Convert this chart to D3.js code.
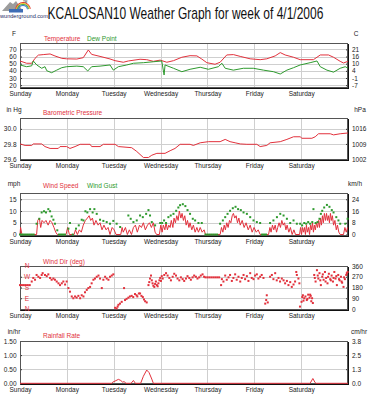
<!DOCTYPE html>
<meta charset="utf-8">
<style>
  body { margin: 0; background: #fff; }
  svg text { font-family: "Liberation Sans", Arial, sans-serif; font-size: 6.5px; fill: #222; }
  .grid { stroke: #cfcfcf; stroke-width: 1px; shape-rendering: crispEdges; }
  .box { fill: none; stroke: #555; stroke-width: 1px; shape-rendering: crispEdges; }
  .shadow { stroke: #111; stroke-width: 1px; shape-rendering: crispEdges; }
  .red { fill: #e2313c !important; }
  .green { fill: #2e9a2e !important; }
</style>
<body>
<svg width="372" height="400"></svg>
<script src="https://d3js.org/d3.v7.min.js"></script>
<script>
// ---- data (hours since Sunday 00:00, value) ---------------------------------
var days = ["Sunday", "Monday", "Tuesday", "Wednesday", "Thursday", "Friday", "Saturday"];
var dayHours = [0, 24, 48, 72, 96, 120, 144];

var tempF = [[0,53.8],[3.4,50.6],[6,50.6],[7.7,57.5],[9.4,62],[11.9,62.7],[15.4,63.6],[17.9,60.8],
  [21.4,57.5],[23.9,56.8],[29.1,56.5],[32.4,58.4],[35,69.2],[36.7,63],[41,60.2],[46.1,56.6],
  [48.7,54.2],[52.9,52],[55.5,53.8],[61.5,56.2],[64.9,55.6],[68.3,53.3],[71.8,55],[75.2,52],
  [78.6,54.2],[82.9,59],[87.1,61.2],[90.6,60.9],[93.1,56.5],[95.7,51.4],[99.9,49.2],[102.5,52],
  [105.9,62.2],[109.3,62.7],[112.8,60.2],[117.9,56.8],[123,55.6],[126.4,56.8],[130.7,60.9],
  [133.3,65.5],[135.8,62.2],[140.1,59],[143.5,55.6],[150.3,55.6],[153.8,62.2],[158,62.2],
  [160.6,59],[164,53.3],[165.7,51],[168,53.3]];

var dewF = [[0,48.2],[3.4,45.8],[6,47],[6.8,53.8],[8.6,48.2],[11.1,43.6],[12.8,45.8],[13.7,40.2],
  [16.2,37.4],[18.8,41],[21.4,44.4],[23.9,45.8],[29.1,46.6],[32.4,45.8],[34.7,39.8],[36.7,45.8],
  [41,46.6],[46.1,48.2],[47.8,41],[50.4,45.8],[54.7,48.2],[58.1,50.6],[63.2,51.4],[68.3,52.7],
  [72.6,53.8],[73.8,34.2],[74.3,48.2],[78.6,43.6],[82.9,38.8],[87.1,42.2],[92.3,45],[96.5,42.2],
  [101.6,45.8],[103.4,50.6],[105.1,43.6],[109.3,41],[114.4,43.6],[119.5,43.6],[124.7,41],
  [129.8,38.8],[133.3,35.6],[136.7,41],[140.1,44.4],[143.5,48.2],[148.6,51.4],[152.1,53.8],
  [153.8,45.8],[157.2,41],[160.6,38.2],[164,43.6],[166.6,45.8],[168,43.6]];

var pressIn = [[0,29.80],[2.6,29.78],[6,29.78],[6.8,29.80],[11.1,29.80],[12.8,29.765],[15.4,29.74],
  [19.6,29.74],[20.5,29.765],[23.9,29.765],[25.6,29.74],[28.2,29.765],[30.8,29.795],[35.9,29.795],
  [36.7,29.765],[41,29.765],[42.7,29.795],[48.7,29.795],[50.4,29.765],[57.2,29.75],[59.8,29.70],
  [63.2,29.62],[65.8,29.62],[67.5,29.65],[70.1,29.675],[74.3,29.675],[76.9,29.71],[79.4,29.74],
  [82,29.795],[87.1,29.795],[88.8,29.78],[92.3,29.815],[96.5,29.83],[102.5,29.83],[105.1,29.86],
  [107.6,29.83],[110.2,29.815],[112.8,29.80],[116.2,29.795],[121.3,29.795],[123,29.765],
  [126.4,29.78],[128.1,29.815],[133.3,29.83],[136.7,29.86],[140.1,29.895],[143.5,29.895],
  [144.4,29.875],[149.5,29.875],[151.2,29.895],[152.9,29.935],[158.9,29.935],[160.6,29.92],
  [164,29.935],[168,29.945]];

var windMph = [[0,0],[0.3,3],[1,0],[8.5,0],[9.1,6],[9.9,7],[10.6,3],[11.3,6],[12.3,5],[13.3,6],
  [14.4,4],[15.4,6],[16.4,5],[17.4,3],[18.3,1],[19.1,0],[23.6,0],[24.4,3],[25.3,0],[27.7,0],
  [28.4,2],[29.4,0],[30.4,2],[31.4,1],[32.4,4],[33.5,6],[34.5,7],[35.4,8],[36.2,6],[37.1,7],
  [37.9,4],[38.9,6],[40,4],[41,5],[42,2],[43,4],[44.1,2],[45.1,3],[46.1,0],[47.2,3],[48.2,2],
  [49.2,0],[51.6,0],[52.3,3],[52.9,1],[54,3],[55,0],[56,2],[57.1,0],[58.1,3],[59.1,4],[60.1,1],
  [61.2,4],[62.2,3],[63.2,5],[64.2,2],[65.3,4],[66.3,5],[67.3,3],[68.3,5],[69.2,1],[70,0],
  [71.4,0],[72.1,4],[72.8,1],[73.4,4],[74.2,2],[74.8,5],[75.5,2],[76.2,4],[76.9,3],[77.5,6],
  [78.3,3],[78.9,7],[79.6,5],[80.3,8],[81,6],[81.6,10],[82.4,7],[83,9],[83.7,6],[84.4,8],
  [85.1,4],[85.8,6],[86.5,3],[87.1,5],[88,2],[88.8,4],[89.7,1],[90.6,3],[91.4,1],[92.3,3],
  [93.3,1],[94.3,2],[95,0],[102.5,0],[103.2,3],[103.9,1],[104.6,4],[105.2,2],[105.9,5],[106.6,3],
  [107.3,6],[108,5],[108.7,8],[109.3,9],[110,7],[110.7,8],[111.4,5],[112.1,7],[112.8,4],[113.8,6],
  [114.8,3],[115.8,5],[116.9,2],[117.9,4],[118.9,1],[119.9,3],[121,1],[122,2],[123,0],[127.3,0],
  [128,3],[128.6,1],[129.3,4],[130,2],[130.7,4],[131.4,1],[132,3],[132.7,5],[133.4,3],[134.1,6],
  [134.8,4],[135.5,5],[136.2,2],[136.8,4],[137.7,1],[138.5,3],[139.4,0],[140.3,2],[141.1,0],
  [143.2,0],[143.7,3],[144.2,0],[144.7,3],[145.2,1],[145.7,3],[146.2,0],[146.7,4],[147.2,1],
  [147.8,3],[148.3,0],[148.8,4],[149.3,2],[149.8,5],[150.3,1],[150.8,4],[151.3,2],[151.8,5],
  [152.4,3],[152.9,6],[153.4,3],[153.9,7],[154.4,4],[154.9,8],[155.4,5],[155.9,9],[156.5,6],
  [157,9],[157.5,6],[158,8],[158.5,5],[159,9],[159.5,6],[160,8],[160.6,4],[161.3,6],[162,2],
  [162.6,4],[163.3,1],[164,0],[165.7,0],[166.4,3],[167.1,1],[167.8,3]];

var gustMph = [[0,0],[1,0],[2,0],[3,0],[4,0],[5,0],[6,0],[7,0],[8.5,4.6],[9.9,6.7],[11.1,9.4],
  [12.3,9.9],[13.3,9.4],[14.5,10.8],[15.4,9.9],[16.2,7.7],[17.1,6.3],[17.9,4.6],[19.1,1.8],
  [20,0],[21,0],[22,0],[23,0],[24.8,2.5],[25.6,4.9],[27,0],[28.7,2.5],[30.1,3.9],[31.6,6.3],
  [32.5,6],[33.5,9.9],[34.5,9.4],[35.9,10.8],[37.2,9.4],[38.1,10.8],[39.3,8.8],[41,6.3],
  [42.7,5.8],[44.4,5.3],[46.1,4.6],[47.8,5.8],[49.5,4.6],[51.3,3.2],[55.5,8.1],[56.7,6.7],
  [58.1,5.3],[59.8,6],[61.5,8.1],[62.9,7.4],[64.6,8.8],[65.8,10.4],[66.6,8.1],[67.5,5.3],
  [69.2,3.9],[71.8,4.9],[72.8,4.9],[73.8,6],[74.8,4.9],[76,7.4],[77.2,8.1],[78.6,8.8],[80,10.1],
  [81.1,11.5],[82,12.5],[83.4,12.9],[84.7,12.1],[85.8,10.4],[87.1,8.8],[88.5,6.7],[89.7,6],
  [91.4,4.9],[93.1,4.9],[95,0],[96,0],[97,0],[98,0],[99,0],[100,0],[101,0],[102.5,4.6],
  [103.9,6],[105.1,7.4],[106.3,8.8],[107.6,10.1],[109,11.2],[110.4,11.8],[111.7,10.8],[113.1,10.4],
  [114.5,9.4],[116.2,8.8],[117.9,7.4],[119.6,6],[121.3,5.3],[123,4.9],[124,0],[125,0],[126,0],
  [128.1,4.9],[129.8,6],[131.6,7.4],[133.3,8.8],[135,8.1],[136.7,6.7],[138.4,4.9],[140.1,6],
  [141.8,4.6],[143.5,4.6],[144.5,3.9],[145.6,4.9],[146.6,4.6],[147.6,5.3],[148.6,4.6],[149.7,5.3],
  [150.3,10.8],[151.4,4.9],[152.4,5.3],[153.4,6.7],[154.1,8.8],[154.8,10.1],[155.8,11.5],
  [157.2,12.6],[158.5,11.8],[159.7,10.4],[160.6,9.4],[162,7.4],[163.1,6],[164,4.6],[166.6,4.6],
  [167.8,6.7]];

var windDeg = [[0,200],[1,200],[2,200],[3,200],[4,200],[5,200],[6,230],[6.8,260],[7.7,245],
  [8.5,285],[9.4,270],[10.3,260],[11.1,285],[11.6,300],[12.8,285],[13.7,275],[14.5,290],
  [15.4,260],[16.2,245],[17.1,255],[17.9,245],[18.8,230],[19.7,215],[20.5,200],[21.4,215],
  [22.2,230],[23.1,205],[23.9,230],[24.8,175],[25.6,145],[26.5,105],[27.3,90],[28.2,105],
  [29,95],[29.9,110],[30.8,90],[31.6,115],[32.5,105],[33.3,140],[34.2,160],[35,175],[35.9,185],
  [36.7,215],[37.6,245],[38.4,255],[39.3,270],[40.2,280],[41,255],[41.9,175],[42.7,245],
  [43.6,270],[44.4,255],[45.3,245],[46.1,270],[47,280],[47.8,290],[48.7,10],[49.5,5],[50,20],
  [50.4,35],[51.2,45],[52.1,60],[53.3,175],[53.8,75],[54.6,85],[55.5,95],[56.3,105],[57.2,110],
  [58,100],[58.9,125],[59.7,115],[60.1,105],[60.9,130],[61.5,130],[62.2,110],[62.9,100],
  [63.5,80],[64.1,65],[64.9,55],[65.8,200],[66.2,225],[66.6,255],[67.1,280],[67.5,240],
  [67.9,215],[68.3,195],[68.8,185],[69.2,210],[69.6,230],[70.1,200],[70.5,190],[70.9,215],
  [71.4,240],[71.8,260],[72.2,235],[72.6,275],[73.1,255],[73.9,285],[74.8,300],[75.6,280],
  [76.5,260],[77.3,240],[78.2,270],[79,295],[79.9,280],[80.7,255],[81.6,240],[82.4,265],
  [83.3,250],[84.1,235],[85,255],[85.8,275],[86.7,260],[87.5,245],[88.4,265],[89.2,280],
  [90.1,270],[90.9,255],[91.8,265],[92.6,280],[93.5,290],[94.3,270],[95,265],[96,265],[97,265],
  [98,265],[99,265],[100,265],[101,265],[102,265],[103,200],[103.4,250],[104.2,230],[105.1,280],
  [105.9,245],[106.8,265],[107.6,285],[108.5,235],[109.3,260],[110.2,290],[111,245],[111.9,270],
  [112.8,230],[113.6,260],[114.5,285],[115.3,250],[116.2,275],[117,235],[117.9,300],[118.7,260],
  [119.6,250],[120.4,280],[121.3,290],[122.1,255],[123,270],[123.8,285],[124.7,260],[125.6,45],
  [126.1,75],[126.4,115],[126.9,55],[128.1,270],[129,285],[129.8,250],[130.7,300],[131.5,240],
  [132.4,260],[133.2,230],[134.1,255],[135,240],[135.8,215],[136.7,235],[137.5,200],[138.4,225],
  [139.2,185],[140.1,205],[140.9,230],[141.5,310],[141.8,285],[142.6,255],[143.1,215],[143.4,20],
  [144.2,60],[144.6,100],[144.9,115],[145.2,70],[145.6,90],[146.2,105],[146.9,75],[147.2,85],
  [147.6,120],[148.3,95],[148.6,120],[148.9,110],[149.2,65],[149.6,90],[150,50],[150.7,285],
  [151,260],[151.4,230],[152.1,325],[152.5,280],[152.8,255],[153.4,300],[153.8,240],[154.1,200],
  [154.8,270],[155.1,290],[155.5,245],[156.2,310],[156.5,230],[156.8,260],[157.5,215],[157.8,270],
  [158.2,295],[158.9,250],[159.2,240],[159.6,280],[160.3,230],[160.6,260],[161,310],[161.6,255],
  [162,275],[162.3,200],[163,285],[163.4,250],[163.7,240],[164.4,270],[164.7,230],[165,220],
  [165.7,185],[166,265],[166.4,250],[167.1,285],[167.4,300],[167.8,310]];

var rainIn = [[0,0],[47,0],[47.5,0.04],[48.7,0.08],[50.4,0.14],[51.6,0.1],[52.6,0.04],[53.3,0.06],
  [54.3,0],[56.9,0],[58.1,0.1],[59.1,0],[61.8,0],[63.2,0.25],[64.9,0.47],[66.1,0.38],[67.5,0.15],
  [68.3,0],[148.6,0],[150,0.17],[151.2,0.02],[151.7,0],[168,0]];

var tempTicks = [20, 30, 40, 50, 60, 70];
var pressTicks = [29.6, 29.8, 30.0];
var windTicks = [0, 5, 10, 15];
var dirTicks = [0, 90, 180, 270, 360];
var dirLetters = ["N", "E", "S", "W", "N"];
var rainTicks = [0, 0.5, 1.0, 1.5];
//------------------------------------------------------------------------------

var RED = "#e2313c", GREEN = "#2e9a2e";
var svg = d3.select("svg");
var x = d3.scaleLinear().domain([0, 168]).range([20, 348]);

//title & logo-------------------------------------------------------------------
svg.append("text").attr("transform", "translate(47.5,19) scale(1,1.35)")
  .style("font-size", "12px").style("fill", "#111")
  .text("KCALOSAN10 Weather Graph for week of 4/1/2006");

var logo = svg.append("g");
logo.append("polygon").attr("points", "2,11 10,2 13,4 16,1 23,11").attr("fill", "#9c9c9c");
[["#e23a2a", 8], ["#f0c020", 7], ["#4aa84a", 6], ["#3a7ac8", 5]].forEach(function (c) {
  logo.append("path").attr("d", d3.arc()({innerRadius: c[1] - 1, outerRadius: c[1], startAngle: -1.4, endAngle: 1.4}))
    .attr("transform", "translate(23,10)").attr("fill", c[0]);
});
logo.append("rect").attr("x", 9).attr("y", 9).attr("width", 14).attr("height", 3.5).attr("fill", "#3d6db5");
logo.append("text").attr("x", 23).attr("y", 3).style("font-size", "3px").text("TM");
logo.append("text").attr("x", 0).attr("y", 18).style("font-size", "5.6px").style("fill", "#1c2a66")
  .text("wunderground.com");
//------------------------------------------------------------------------------

function panel(p) {
  var g = svg.append("g");
  var y = p.y;
  g.selectAll(".hg").data(p.ticks).enter().append("line").attr("class", "grid")
    .attr("x1", 20).attr("x2", 348).attr("y1", function (d) { return Math.round(y(d)) + 0.5; })
    .attr("y2", function (d) { return Math.round(y(d)) + 0.5; });
  g.selectAll(".vg").data(dayHours.slice(1)).enter().append("line").attr("class", "grid")
    .attr("x1", function (d) { return Math.round(x(d)) + 0.5; }).attr("x2", function (d) { return Math.round(x(d)) + 0.5; })
    .attr("y1", p.top).attr("y2", p.bottom);

  g.append("g").attr("transform", "translate(20,0)").attr("color", "#333")
    .call(d3.axisLeft(y).tickValues(p.ticks).tickSizeInner(-2).tickSizeOuter(0).tickPadding(3.5).tickFormat(p.left))
    .call(function (a) { a.select(".domain").remove(); });
  g.append("g").attr("transform", "translate(348,0)").attr("color", "#333")
    .call(d3.axisRight(y).tickValues(p.ticks).tickSizeInner(-2).tickSizeOuter(0).tickPadding(4).tickFormat(p.right))
    .call(function (a) { a.select(".domain").remove(); });
  g.append("g").attr("transform", "translate(0," + p.bottom + ")").attr("color", "#333")
    .call(d3.axisBottom(x).tickValues(dayHours).tickSize(2).tickPadding(2.2).tickFormat(function (d, i) { return days[i]; }))
    .call(function (a) { a.select(".domain").remove(); });

  g.append("rect").attr("class", "box").attr("x", 20.5).attr("y", p.top + 0.5)
    .attr("width", 327).attr("height", p.bottom - p.top);
  g.append("polyline").attr("class", "shadow").attr("fill", "none")
    .attr("points", "348.5," + (p.top + 1) + " 348.5," + (p.bottom + 1.5) + " 21," + (p.bottom + 1.5));

  if (p.unitL) g.append("text").attr("x", 14).attr("y", p.unitY).attr("text-anchor", "middle").text(p.unitL);
  if (p.unitR) g.append("text").attr("x", p.unitRX).attr("y", p.unitY).attr("text-anchor", "middle").text(p.unitR);
  (p.legend || []).forEach(function (l) {
    g.append("text").attr("x", l[1]).attr("y", p.legendY).attr("class", l[2]).text(l[0]);
  });
  return g;
}

function line(g, data, y, color) {
  g.append("path").datum(data).attr("fill", "none").attr("stroke", color).attr("stroke-width", 1)
    .attr("d", d3.line().x(function (d) { return x(d[0]); }).y(function (d) { return y(d[1]); }));
}

function dots(g, data, y, color) {
  g.selectAll(null).data(data).enter().append("rect")
    .attr("x", function (d) { return x(d[0]) - 1; }).attr("y", function (d) { return y(d[1]) - 1; })
    .attr("width", 2).attr("height", 2).attr("fill", color);
}

//temperature--------------------------------------------------------------------
var yT = d3.scaleLinear().domain([17, 78.5]).range([87.3, 43.3]);
var g1 = panel({y: yT, top: 43, bottom: 87, ticks: tempTicks,
  left: function (d) { return d; }, right: function (d) { return Math.round((d - 32) * 5 / 9); },
  unitL: "F", unitR: "C", unitRX: 356, unitY: 36,
  legendY: 40.6, legend: [["Temperature", 44, "red"], ["Dew Point", 87, "green"]]});
line(g1, tempF, yT, RED);
line(g1, dewF, yT, GREEN);

//pressure-----------------------------------------------------------------------
var yP = d3.scaleLinear().domain([29.6, 30.14]).range([159, 118.3]);
var g2 = panel({y: yP, top: 118, bottom: 159, ticks: pressTicks,
  left: d3.format(".1f"), right: function (d) { return Math.round(d * 33.8639); },
  unitL: "in Hg", unitR: "hPa", unitRX: 360, unitY: 112.3,
  legendY: 114.6, legend: [["Barometric Pressure", 43, "red"]]});
line(g2, pressIn, yP, RED);

//wind speed---------------------------------------------------------------------
var yW = d3.scaleLinear().domain([-0.2, 17.8]).range([235, 192.7]);
var g3 = panel({y: yW, top: 192.5, bottom: 235, ticks: windTicks,
  left: function (d) { return d; }, right: function (d) { return Math.round(d * 1.609); },
  unitL: "mph", unitR: "km/h", unitRX: 355, unitY: 186.3,
  legendY: 188.3, legend: [["Wind Speed", 43, "red"], ["Wind Gust", 87, "green"]]});
line(g3, windMph, yW, RED);
dots(g3, gustMph, yW, GREEN);

//wind direction-----------------------------------------------------------------
var yD = d3.scaleLinear().domain([0, 360]).range([309, 266]);
var g4 = panel({y: yD, top: 266, bottom: 309, ticks: dirTicks,
  left: function () { return ""; }, right: function (d) { return d; },
  legendY: 264, legend: [["Wind Dir (deg)", 43, "red"]]});
g4.selectAll(".dl").data(dirTicks).enter().append("text").attr("class", "red")
  .attr("x", 27).attr("y", function (d) { return yD(d) + 2.3; }).attr("text-anchor", "middle")
  .text(function (d, i) { return dirLetters[i]; });
dots(g4, windDeg, yD, RED);

//rainfall-----------------------------------------------------------------------
var yR = d3.scaleLinear().domain([0, 1.5]).range([383.3, 341]);
var g5 = panel({y: yR, top: 341, bottom: 383, ticks: rainTicks,
  left: d3.format(".2f"), right: function (d) { return (d * 2.54).toFixed(1); },
  unitL: "in/hr", unitR: "cm/hr", unitRX: 359, unitY: 334,
  legendY: 338.3, legend: [["Rainfall Rate", 43, "red"]]});
line(g5, rainIn, yR, RED);
</script>
